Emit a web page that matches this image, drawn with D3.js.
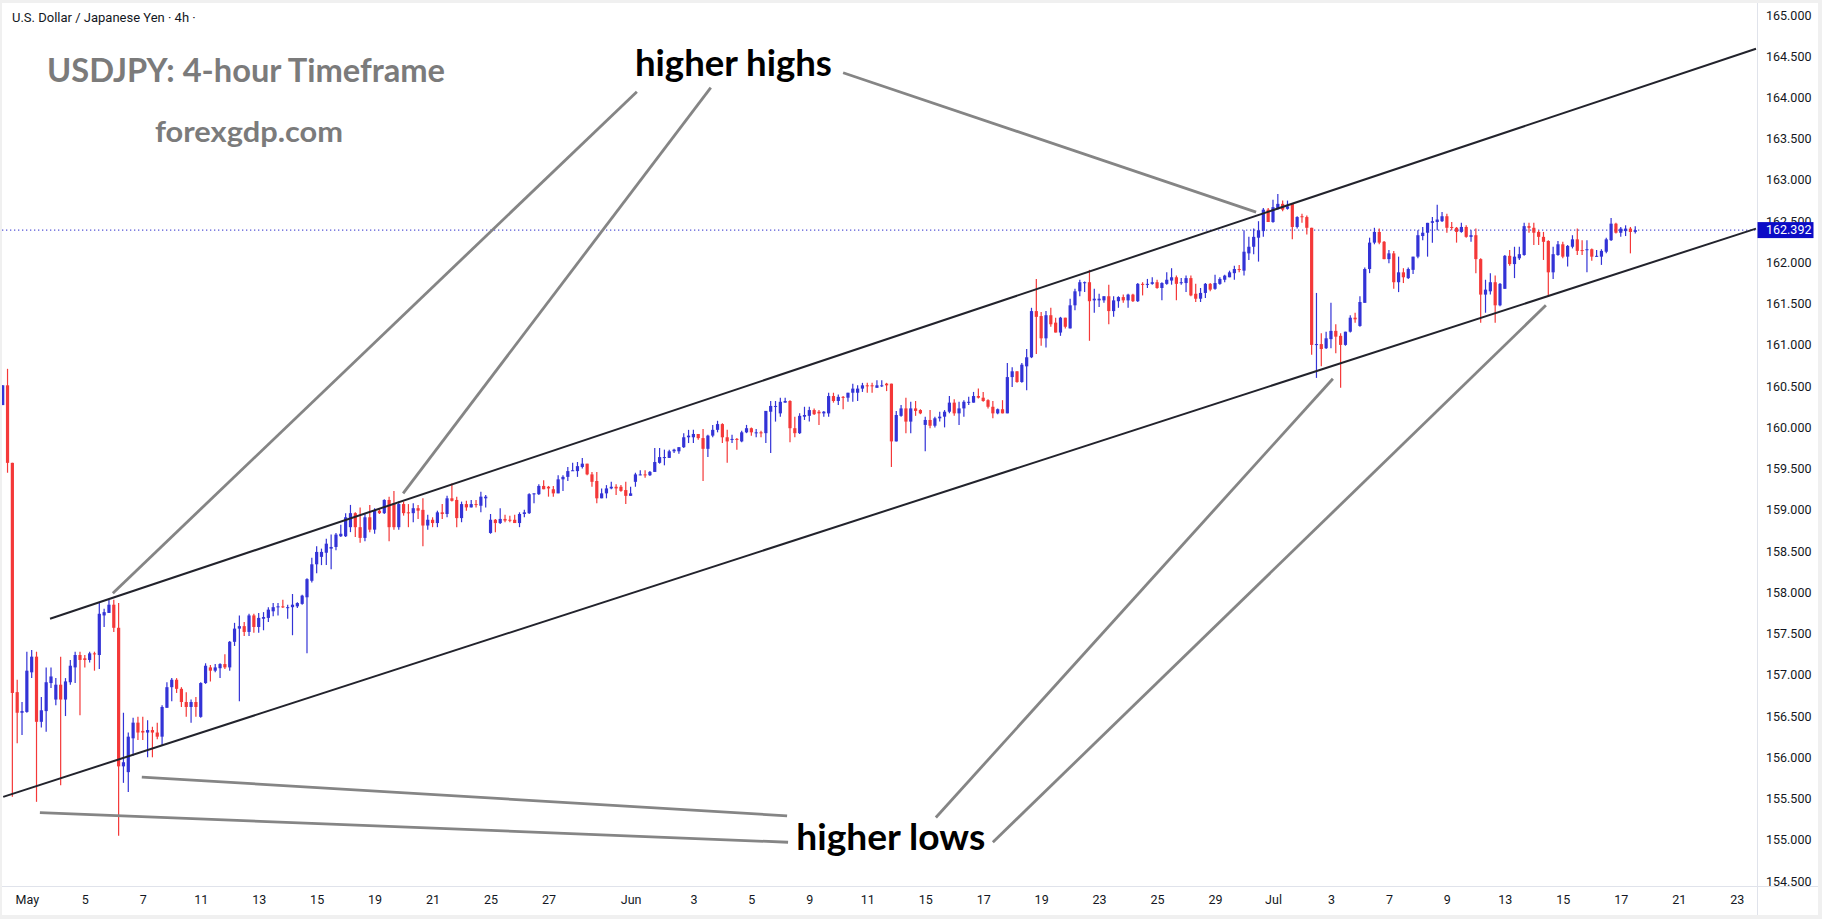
<!DOCTYPE html>
<html>
<head>
<meta charset="utf-8">
<script src="https://cdn.jsdelivr.net/npm/d3@7"></script>
<style>
  html, body { margin: 0; padding: 0; background: #fff; }
  svg { display: block; }
</style>
</head>
<body>
<svg id="chart" width="1822" height="919"></svg>
<script>
// 4h USDJPY candles
const opens = [
  160.27,160.51,159.57,156.79,156.54,156.55,157.03,157.22,156.43,156.56,
  156.90,156.70,156.88,156.70,156.91,157.09,157.24,157.20,157.18,157.26,
  157.24,157.72,157.75,157.85,157.57,155.89,155.82,156.23,156.42,156.32,
  156.30,156.33,156.30,156.25,156.60,156.85,156.94,156.83,156.67,156.61,
  156.67,156.49,156.90,157.09,157.05,157.08,157.13,157.09,157.40,157.56,
  157.59,157.52,157.72,157.58,157.68,157.69,157.77,157.82,157.83,157.81,
  157.82,157.83,157.86,157.94,158.14,158.34,158.43,158.48,158.53,158.55,
  158.68,158.68,158.79,158.96,158.79,158.66,158.91,158.76,158.99,158.96,
  159.12,159.08,158.79,159.07,158.97,158.96,159.02,159.00,158.81,158.88,
  158.84,158.97,158.95,159.14,159.12,158.90,159.07,159.03,159.07,159.05,
  159.14,158.72,158.88,158.84,158.89,158.88,158.88,158.84,158.95,158.96,
  159.19,159.19,159.29,159.28,159.25,159.20,159.37,159.40,159.47,159.47,
  159.52,159.56,159.43,159.35,159.14,159.20,159.26,159.28,159.28,159.24,
  159.17,159.34,159.42,159.43,159.42,159.46,159.57,159.63,159.63,159.71,
  159.71,159.76,159.88,159.88,159.92,159.87,159.74,159.90,159.97,160.04,
  159.88,159.85,159.86,159.83,159.94,159.99,159.93,159.94,159.93,160.19,
  160.25,160.17,160.30,160.32,159.99,159.93,160.13,160.14,160.21,160.19,
  160.17,160.17,160.38,160.32,160.37,160.36,160.42,160.42,160.47,160.51,
  160.51,160.48,160.50,160.53,160.53,159.83,160.14,160.23,160.07,160.23,
  160.21,160.03,160.09,160.02,160.11,160.13,160.19,160.30,160.17,160.23,
  160.30,160.30,160.38,160.36,160.33,160.25,160.17,160.22,160.17,160.61,
  160.68,160.55,160.74,160.85,161.41,161.35,161.08,161.36,161.27,161.15,
  161.33,161.20,161.48,161.65,161.75,161.76,161.54,161.54,161.54,161.59,
  161.41,161.53,161.58,161.54,161.61,161.53,161.74,161.73,161.74,161.76,
  161.69,161.74,161.78,161.82,161.75,161.75,161.81,161.62,161.56,161.63,
  161.74,161.68,161.74,161.79,161.82,161.87,161.92,161.90,162.11,162.19,
  162.30,162.38,162.64,162.49,162.66,162.71,162.65,162.71,162.43,162.56,
  162.55,162.42,161.00,161.01,160.96,161.07,161.17,161.11,161.00,161.16,
  161.33,161.23,161.51,161.92,162.24,162.37,162.25,162.04,162.11,161.76,
  161.88,161.81,161.91,162.07,162.32,162.36,162.48,162.49,162.50,162.56,
  162.43,162.42,162.37,162.43,162.31,162.33,162.04,161.61,161.65,161.76,
  161.48,161.68,162.08,161.98,162.05,162.09,162.44,162.42,162.37,162.31,
  162.26,161.88,162.09,162.22,162.07,162.19,162.28,162.15,162.15,162.16,
  162.07,162.07,162.13,162.27,162.47,162.36,162.38,162.41,162.37
];
const highs = [
  160.51,160.71,159.57,156.94,156.67,157.28,157.30,157.28,156.73,157.09,
  157.09,156.96,157.22,156.96,157.18,157.28,157.28,157.24,157.28,157.28,
  157.87,157.80,157.91,157.91,157.87,156.54,156.30,156.48,156.49,156.49,
  156.45,156.37,156.42,156.63,156.91,156.96,156.96,156.85,156.79,156.70,
  156.73,156.91,157.14,157.12,157.13,157.14,157.25,157.41,157.63,157.72,
  157.64,157.74,157.74,157.75,157.76,157.82,157.87,157.87,157.91,157.85,
  157.98,157.88,157.97,158.17,158.42,158.56,158.53,158.65,158.70,158.72,
  158.82,158.96,159.06,158.97,159.03,158.96,159.06,159.02,159.01,159.13,
  159.16,159.23,159.10,159.10,159.07,159.08,159.06,159.14,158.94,158.91,
  158.99,159.07,159.17,159.32,159.16,159.10,159.11,159.12,159.12,159.22,
  159.18,158.95,158.89,159.02,158.94,158.93,158.94,158.97,159.00,159.20,
  159.20,159.31,159.36,159.29,159.29,159.42,159.42,159.52,159.57,159.58,
  159.63,159.56,159.46,159.46,159.26,159.30,159.34,159.31,159.30,159.34,
  159.28,159.45,159.48,159.48,159.47,159.75,159.75,159.73,159.73,159.74,
  159.76,159.93,159.97,159.97,159.92,159.98,159.91,160.03,160.08,160.05,
  159.97,159.91,159.87,159.96,160.03,160.00,159.98,159.96,160.20,160.32,
  160.32,160.36,160.36,160.33,160.13,160.17,160.25,160.25,160.23,160.21,
  160.20,160.42,160.42,160.40,160.38,160.42,160.53,160.51,160.54,160.54,
  160.54,160.57,160.57,160.54,160.53,160.20,160.27,160.36,160.31,160.32,
  160.22,160.13,160.21,160.13,160.19,160.21,160.38,160.34,160.31,160.33,
  160.37,160.43,160.47,160.43,160.34,160.32,160.23,160.33,160.78,160.73,
  160.68,160.78,160.95,161.45,161.80,161.40,161.41,161.45,161.33,161.34,
  161.33,161.56,161.68,161.79,161.77,161.91,161.68,161.62,161.59,161.73,
  161.59,161.59,161.61,161.62,161.62,161.75,161.76,161.80,161.82,161.79,
  161.76,161.88,161.93,161.84,161.81,161.84,161.84,161.74,161.69,161.75,
  161.75,161.85,161.82,161.85,161.90,161.96,161.97,162.39,162.31,162.41,
  162.50,162.66,162.66,162.76,162.83,162.75,162.75,162.71,162.56,162.59,
  162.57,162.42,161.63,161.14,161.16,161.51,161.25,161.14,161.16,161.36,
  161.39,161.59,161.94,162.30,162.42,162.41,162.26,162.15,162.14,162.07,
  161.93,161.94,162.07,162.39,162.43,162.48,162.55,162.70,162.61,162.59,
  162.49,162.43,162.48,162.45,162.39,162.41,162.05,161.79,161.87,161.84,
  161.75,162.09,162.15,162.19,162.19,162.48,162.48,162.48,162.39,162.37,
  162.27,162.19,162.26,162.25,162.21,162.33,162.41,162.27,162.27,162.17,
  162.15,162.16,162.30,162.54,162.48,162.43,162.45,162.43,162.44
];
const lows = [
  160.27,159.45,155.52,156.17,156.27,156.54,156.96,155.46,156.36,156.31,
  156.84,156.63,155.66,156.50,156.88,156.90,156.51,157.09,157.15,157.05,
  157.07,157.58,157.75,157.52,155.05,155.69,155.58,156.02,156.21,156.21,
  156.00,156.00,156.22,156.15,156.60,156.68,156.78,156.61,156.49,156.42,
  156.49,156.48,156.89,156.92,157.03,156.96,157.07,157.05,157.35,156.68,
  157.47,157.47,157.51,157.51,157.54,157.64,157.71,157.72,157.81,157.68,
  157.48,157.81,157.85,157.26,158.12,158.23,158.33,158.33,158.28,158.51,
  158.67,158.67,158.73,158.67,158.60,158.62,158.73,158.71,158.95,158.95,
  158.62,158.76,158.76,158.93,158.79,158.85,158.89,158.56,158.76,158.79,
  158.79,158.89,158.91,159.10,158.79,158.85,158.99,159.03,159.03,158.97,
  159.03,158.71,158.73,158.83,158.85,158.85,158.84,158.79,158.91,158.95,
  159.08,159.18,159.25,159.16,159.16,159.20,159.23,159.35,159.47,159.40,
  159.50,159.42,159.28,159.08,159.14,159.14,159.25,159.18,159.22,159.07,
  159.17,159.28,159.42,159.39,159.41,159.46,159.56,159.54,159.63,159.69,
  159.68,159.75,159.81,159.81,159.85,159.35,159.64,159.88,159.94,159.81,
  159.57,159.81,159.73,159.82,159.93,159.90,159.88,159.88,159.81,159.69,
  160.07,160.13,160.30,159.82,159.88,159.92,160.09,160.07,160.15,160.03,
  160.13,160.13,160.30,160.27,160.22,160.31,160.31,160.32,160.43,160.42,
  160.42,160.48,160.49,160.44,159.52,159.83,160.13,159.93,159.93,160.14,
  160.16,159.71,159.99,160.00,160.07,160.00,160.17,160.14,160.03,160.13,
  160.27,160.30,160.35,160.31,160.23,160.11,160.16,160.17,160.17,160.49,
  160.54,160.54,160.45,160.84,160.89,160.99,160.97,161.22,161.15,161.11,
  161.20,161.20,161.42,161.59,161.64,161.05,161.39,161.46,161.51,161.25,
  161.34,161.45,161.51,161.45,161.52,161.52,161.60,161.69,161.73,161.68,
  161.54,161.73,161.73,161.54,161.73,161.64,161.59,161.52,161.52,161.57,
  161.65,161.67,161.73,161.76,161.82,161.79,161.88,161.84,162.03,162.10,
  162.01,162.31,162.49,162.48,162.64,162.62,162.64,162.28,162.41,162.48,
  162.34,160.88,160.60,160.74,160.95,160.96,160.90,160.48,160.99,161.15,
  161.27,161.22,161.51,161.87,162.22,162.22,162.04,161.99,161.68,161.64,
  161.75,161.80,161.86,162.05,162.27,162.07,162.24,162.39,162.49,162.36,
  162.39,162.24,162.36,162.30,162.25,161.87,161.27,161.39,161.61,161.27,
  161.47,161.68,161.96,161.81,162.03,162.08,162.36,162.21,162.21,162.03,
  161.58,161.80,162.08,162.05,161.95,162.17,162.09,162.09,161.88,162.02,
  162.07,161.97,162.11,162.26,162.35,162.31,162.32,162.11,162.35
];
const closes = [
  160.51,159.57,156.78,156.54,156.56,157.05,157.22,156.43,156.57,156.91,
  156.98,156.88,156.70,156.92,157.11,157.24,157.18,157.18,157.26,157.25,
  157.74,157.76,157.85,157.57,155.89,155.94,156.25,156.42,156.30,156.30,
  156.33,156.30,156.25,156.61,156.85,156.94,156.83,156.67,156.61,156.67,
  156.61,156.90,157.11,157.05,157.09,157.13,157.09,157.40,157.56,157.59,
  157.52,157.72,157.58,157.69,157.70,157.79,157.82,157.83,157.82,157.82,
  157.85,157.87,157.96,158.16,158.34,158.49,158.49,158.59,158.55,158.70,
  158.71,158.91,158.96,158.79,158.66,158.91,158.76,158.99,158.96,159.12,
  158.79,158.79,159.07,158.96,158.96,159.02,158.99,158.81,158.88,158.84,
  158.97,158.95,159.14,159.11,158.90,159.07,159.03,159.07,159.06,159.16,
  159.16,158.88,158.84,158.89,158.87,158.87,158.84,158.95,158.97,159.19,
  159.20,159.29,159.25,159.26,159.20,159.37,159.40,159.47,159.48,159.53,
  159.56,159.43,159.34,159.14,159.20,159.26,159.28,159.26,159.23,159.17,
  159.20,159.43,159.43,159.42,159.46,159.58,159.64,159.64,159.71,159.73,
  159.76,159.88,159.90,159.92,159.87,159.74,159.90,159.97,160.04,159.88,
  159.83,159.86,159.85,159.94,159.99,159.94,159.94,159.93,160.20,160.26,
  160.26,160.31,160.32,159.99,159.93,160.14,160.15,160.21,160.16,160.17,
  160.19,160.38,160.32,160.37,160.36,160.42,160.47,160.47,160.51,160.50,
  160.50,160.51,160.51,160.51,159.83,160.15,160.23,160.07,160.23,160.20,
  160.17,160.09,160.02,160.11,160.13,160.19,160.30,160.17,160.23,160.31,
  160.31,160.38,160.36,160.32,160.25,160.17,160.22,160.17,160.61,160.68,
  160.55,160.76,160.85,161.41,161.34,161.08,161.36,161.25,161.15,161.33,
  161.22,161.48,161.65,161.76,161.76,161.53,161.56,161.56,161.59,161.41,
  161.54,161.58,161.54,161.61,161.53,161.74,161.73,161.74,161.76,161.69,
  161.75,161.79,161.82,161.74,161.76,161.81,161.60,161.56,161.63,161.74,
  161.67,161.75,161.80,161.84,161.88,161.92,161.91,162.13,162.19,162.31,
  162.39,162.64,162.49,162.67,162.71,162.64,162.68,162.43,162.55,162.55,
  162.42,161.00,161.01,160.95,161.08,161.17,161.10,161.00,161.16,161.33,
  161.31,161.52,161.92,162.24,162.37,162.24,162.04,162.11,161.76,161.88,
  161.82,161.92,162.07,162.33,162.36,162.48,162.50,162.52,162.56,162.42,
  162.42,162.37,162.43,162.31,162.33,162.04,161.61,161.67,161.76,161.48,
  161.74,162.08,161.98,162.07,162.10,162.44,162.42,162.36,162.31,162.25,
  161.88,162.10,162.22,162.07,162.20,162.28,162.14,162.14,162.16,162.07,
  162.08,162.14,162.28,162.47,162.36,162.41,162.41,162.37,162.392
];

// time axis: bar index where each date label sits
const tickBars = [5,17,29,41,53,65,77,89,101,113,130,143,155,167,179,191,203,215,227,239,251,263,275,287,299,311,323,335,347,359];
const tickLabels = ["May","5","7","11","13","15","19","21","25","27","Jun","3","5","9","11","15","17","19","23","25","29","Jul","3","7","9","13","15","17","21","23"];
const priceTicks = d3.range(154.5, 165.001, 0.5);
const lastPrice = 162.392;

// drawings, as [bar, price] pairs
const channelLines = [
  [[9.8, 157.68], [363, 164.59]],
  [[0.1, 155.52], [363, 162.41]]
];
const pointerLines = [
  [[22.8, 157.99], [131.3, 164.07]],
  [[82.9, 159.20], [146.6, 164.12]],
  [[174.0, 164.30], [259.5, 162.61]],
  [[28.8, 155.76], [162.4, 155.29]],
  [[7.7, 155.33], [162.6, 154.97]],
  [[193.2, 155.27], [275.4, 160.59]],
  [[205.0, 154.97], [319.5, 161.48]]
];
const notes = [
  {label: "higher highs", bar: 130.9, price: 164.26, len: 197},
  {label: "higher lows", bar: 164.3, price: 154.87, len: 189}
];

if (![highs, lows, closes].every(a => a.length === opens.length)) {
  throw new Error("ohlc length mismatch " + [opens, highs, lows, closes].map(a => a.length));
}

const W = 1822, H = 919;
const plotRight = 1757, plotBottom = 886;
const svg = d3.select("#chart");

const x = d3.scaleLinear().domain([0, 363]).range([2.7, 1756]);
const y = d3.scaleLinear().domain([154.5, 165]).range([881, 15]);

// frame
svg.append("rect").attr("width", W).attr("height", H).attr("fill", "#f0f0f0");
svg.append("rect").attr("x", 2).attr("y", 3).attr("width", W - 6).attr("height", H - 7).attr("fill", "#fff");

svg.append("defs").append("clipPath").attr("id", "plot")
  .append("rect").attr("x", 2).attr("y", 3).attr("width", plotRight - 2).attr("height", plotBottom - 3);

const g = svg.append("g").attr("clip-path", "url(#plot)");

// last price dotted line
g.append("line")
  .attr("x1", 2).attr("x2", plotRight)
  .attr("y1", y(lastPrice)).attr("y2", y(lastPrice))
  .attr("stroke", "#2a2acc").attr("stroke-width", 1)
  .attr("stroke-dasharray", "1.3,2.7");

// candles
const up = "#3333d6", down = "#f43838";
const candles = opens.map((o, i) => ({i, o, h: highs[i], l: lows[i], c: closes[i]}));
const cg = g.selectAll(".candle").data(candles).enter().append("g").attr("class", "candle");
cg.append("line")
  .attr("x1", d => x(d.i)).attr("x2", d => x(d.i))
  .attr("y1", d => y(d.h)).attr("y2", d => y(d.l))
  .attr("stroke", d => d.c >= d.o ? up : down)
  .attr("stroke-width", 1.2);
cg.append("rect")
  .attr("x", d => x(d.i) - 1.6)
  .attr("width", 3.2)
  .attr("y", d => y(Math.max(d.o, d.c)))
  .attr("height", d => Math.max(1, Math.abs(y(d.o) - y(d.c))))
  .attr("fill", d => d.c >= d.o ? up : down);

// channel
const seg = d3.line().x(d => x(d[0])).y(d => y(d[1]));
g.selectAll(".channel").data(channelLines).enter().append("path")
  .attr("class", "channel")
  .attr("d", seg)
  .attr("fill", "none").attr("stroke", "#22232c").attr("stroke-width", 2);

// grey pointer lines
g.selectAll(".pointer").data(pointerLines).enter().append("path")
  .attr("class", "pointer")
  .attr("d", seg)
  .attr("fill", "none").attr("stroke", "#858585").attr("stroke-width", 2.8);

// notes
g.selectAll(".note").data(notes).enter().append("text")
  .attr("x", d => x(d.bar)).attr("y", d => y(d.price))
  .attr("textLength", d => d.len).attr("lengthAdjust", "spacingAndGlyphs")
  .attr("font-family", "Lato, 'Open Sans', sans-serif")
  .attr("font-weight", 700).attr("font-size", 37)
  .attr("fill", "#000")
  .text(d => d.label);

// headings
svg.append("text").attr("x", 12).attr("y", 22)
  .attr("font-family", "Roboto, sans-serif").attr("font-size", 13).attr("fill", "#131722")
  .text("U.S. Dollar / Japanese Yen · 4h ·");
svg.append("text").attr("x", 47).attr("y", 82)
  .attr("textLength", 398).attr("lengthAdjust", "spacingAndGlyphs")
  .attr("font-family", "Lato, sans-serif").attr("font-weight", 700).attr("font-size", 33)
  .attr("fill", "#7b7b7b").text("USDJPY: 4-hour Timeframe");
svg.append("text").attr("x", 155).attr("y", 142)
  .attr("textLength", 188).attr("lengthAdjust", "spacingAndGlyphs")
  .attr("font-family", "Lato, sans-serif").attr("font-weight", 700).attr("font-size", 28)
  .attr("fill", "#7b7b7b").text("forexgdp.com");

// axes borders
svg.append("line").attr("x1", plotRight + 0.5).attr("x2", plotRight + 0.5).attr("y1", 3).attr("y2", H - 4)
  .attr("stroke", "#e0e3eb");
svg.append("line").attr("x1", 2).attr("x2", W - 4).attr("y1", plotBottom + 0.5).attr("y2", plotBottom + 0.5)
  .attr("stroke", "#e0e3eb");

// price axis
const yAxis = svg.append("g").attr("transform", "translate(" + plotRight + ",0)")
  .call(d3.axisRight(y).tickValues(priceTicks).tickFormat(d3.format(".3f")).tickSize(0).tickPadding(9));
yAxis.select(".domain").remove();
yAxis.selectAll("text")
  .attr("font-family", "Roboto, sans-serif").attr("font-size", 12.5).attr("fill", "#131722");

// time axis
const xAxis = svg.append("g").attr("transform", "translate(0," + plotBottom + ")")
  .call(d3.axisBottom(x).tickValues(tickBars).tickFormat((d, i) => tickLabels[i]).tickSize(0));
xAxis.select(".domain").remove();
xAxis.selectAll("text")
  .attr("y", 14).attr("dy", "0.35em")
  .attr("font-family", "Roboto, sans-serif").attr("font-size", 12.5).attr("fill", "#131722");

// last price tag
svg.append("rect").attr("x", plotRight + 0.5).attr("y", y(lastPrice) - 8)
  .attr("width", 56).attr("height", 16).attr("fill", "#0c0cc6");
svg.append("text").attr("x", plotRight + 9).attr("y", y(lastPrice)).attr("dy", "0.35em")
  .attr("font-family", "Roboto, sans-serif").attr("font-size", 12.5).attr("fill", "#fff")
  .text(d3.format(".3f")(lastPrice));
</script>
</body>
</html>
